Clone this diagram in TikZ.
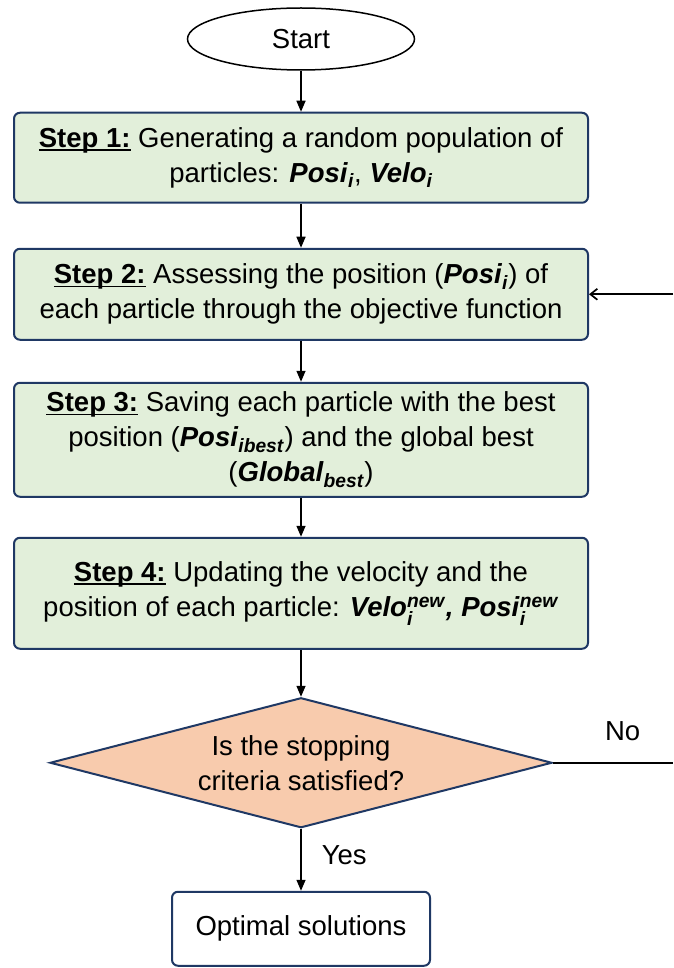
\documentclass[tikz,border=0pt]{standalone}
\usepackage{fontspec}
\usepackage{amsmath}
\setmainfont{Liberation Sans}
\usetikzlibrary{
  arrows.meta,
  shapes.geometric,
  positioning,
  calc
}
\definecolor{psoStep}{HTML}{E2EFDA}
\definecolor{psoEdge}{HTML}{1F3864}
\definecolor{psoTest}{HTML}{F8CBAD}
\newcommand{\bi}[1]{\textbf{\textit{#1}}}
\newcommand{\ulbar}[1]{\setbox0\hbox{#1}\rlap{\rule[-3.5pt]{\wd0}{1.6pt}}\box0\relax}
\newcommand{\steptag}[1]{\ulbar{\textbf{Step #1:}}}
\tikzset{
  psonode/.style={
    draw, font=\fontsize{27.5}{35}\selectfont, align=center, inner sep=4pt
  },
  terminal/.style={psonode, ellipse, draw=black, line width=1.5pt, fill=white,
    minimum width=227pt, minimum height=62pt},
  stepbox/.style={psonode, rounded corners=6pt, fill=psoStep, draw=psoEdge,
    line width=2pt, minimum width=574pt},
  decision/.style={psonode, diamond, aspect=3.86, inner sep=0pt, fill=psoTest,
    draw=psoEdge, line width=2pt, minimum width=502pt, minimum height=130pt},
  result/.style={psonode, rounded corners=6pt, fill=white, draw=psoEdge,
    line width=2pt, minimum width=258pt, minimum height=74pt},
  flow/.style={-{Triangle[length=11pt, width=9pt]}, line width=1.5pt, black},
  loopback/.style={-{Straight Barb[length=7pt, width=11pt]}, line width=1.7pt, black},
  netline/.style={line width=1.7pt, black},
  tag/.style={font=\fontsize{27.5}{35}\selectfont, inner sep=0pt}
}
\begin{document}
\begin{tikzpicture}[node distance=41pt]
  \useasboundingbox (0,0) rectangle (673pt,-968pt);
  \coordinate (edge) at (673pt,0);
  \node[terminal] (start) at (301pt,-39pt) {Start};
  \node[stepbox, below=41pt of start, minimum height=90pt] (step1)
    {\steptag{1} Generating a random population of\\
     particles: \bi{Posi}\textsubscript{\bi{i}}, \bi{Velo}\textsubscript{\bi{i}}};
  \node[stepbox, below=44pt of step1, minimum height=91pt] (step2)
    {\steptag{2} Assessing the position (\bi{Posi}\textsubscript{\bi{i}}) of\\
     each particle through the objective function};
  \node[stepbox, below=41pt of step2, minimum height=114pt] (step3)
    {\steptag{3} Saving each particle with the best\\
     position (\bi{Posi}\textsubscript{\bi{ibest}}) and the global best\\
     (\bi{Global}\textsubscript{\bi{best}})};
  \node[stepbox, below=39pt of step3, minimum height=111pt] (step4)
    {\steptag{4} Updating the velocity and the\\
     position of each particle: \bi{Velo}$_{\bi{i}}^{\bi{new}}$\bi{, Posi}$_{\bi{i}}^{\bi{new}}$};
  \node[decision, below=47pt of step4] (decide)
    {Is the stopping\\ criteria satisfied?};
  \node[result, below=62pt of decide] (optimal) {Optimal solutions};
  \coordinate (noend) at (decide.east -| edge);
  \coordinate (back) at (step2.east -| edge);
  \foreach \a/\b in {start/step1,step1/step2,step2/step3,step3/step4,step4/decide}{
    \draw[flow] (\a) -- (\b);
  }
  \draw[flow] (decide) -- node[tag, anchor=west, xshift=20pt, yshift=5pt] (yes) {Yes} (optimal);
  \draw[netline] (decide.east) -- node[tag, pos=0.58, anchor=south, yshift=21pt] (no) {No} (noend);
  \draw[loopback] (back) -- (step2.east);
\end{tikzpicture}
\end{document}
